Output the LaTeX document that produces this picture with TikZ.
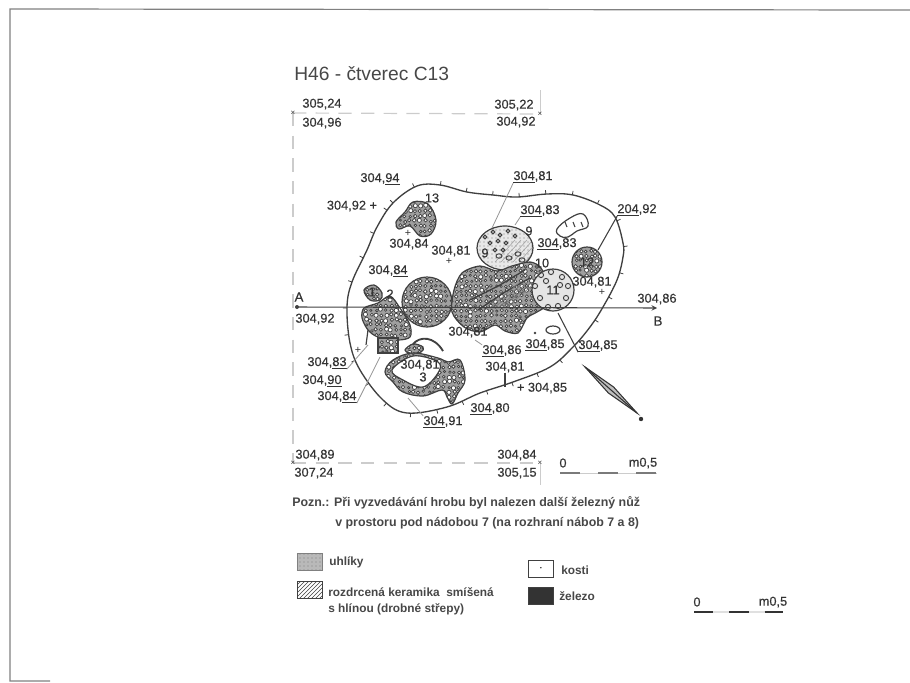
\documentclass[tikz,border=0pt]{standalone}
\usepackage{fontspec}
\setmainfont{Liberation Sans}
\newfontfamily\heavyfont[FakeBold=0.35]{Liberation Sans}
\usetikzlibrary{patterns,decorations.pathreplacing}

\definecolor{ink}{HTML}{333333}
\definecolor{edge}{HTML}{404040}
\definecolor{faint}{HTML}{CCCCCC}

\tikzset{
  lbl/.style={font=\heavyfont\fontsize{9.6}{10}\selectfont, text=ink, inner sep=0pt},
  note/.style={font=\fontsize{9.3}{10}\selectfont\bfseries, text=ink!90, inner sep=0pt, anchor=west},
  keytext/.style={font=\fontsize{8.9}{10}\selectfont\bfseries, text=ink!90, inner sep=0pt, anchor=west},
  leader/.style={edge!55, line width=0.6pt},
  pointer/.style={edge, line width=0.8pt},
  frameline/.style={faint, line width=0.9pt, dash pattern=on 10pt off 7pt},
  pebble/.style={edge, line width=0.55pt, fill=white},
  rim/.style={edge, line width=0.9pt},
  legendbox/.style={draw=edge, line width=0.9pt, minimum width=19pt, minimum height=12.5pt, inner sep=0pt},
  scalebar/.style={ink!65, line width=2pt}
}

% path, left, top, columns, rows
\newcommand{\pebblefill}[5]{
  \begin{scope}
    \clip #1;
    \fill [gray!75] (#2,#3) rectangle ++({5*#4+6},{5*#5+6});
    \foreach \gi in {0,...,#4}
      \foreach \gj in {0,...,#5}
        \draw [pebble] ({#2+5*\gi+2*rnd},{#3+5*\gj+2*rnd}) circle [radius={1.1+1.1*rnd}];
  \end{scope}
  \draw [rim] #1;
}

\begin{document}
\begin{tikzpicture}[x=0.75pt, y=-0.75pt, >=stealth]
\useasboundingbox (0,0) rectangle (910,682);
\pgfmathsetseed{46}

% sheet edge
\draw [gray, line width=0.9pt] (910,10) -- (10,9) -- (10,681) -- (50,681);

% square
\coordinate (corner-nw) at (293,113);
\coordinate (corner-ne) at (540,114);
\coordinate (corner-sw) at (293,463);
\coordinate (corner-se) at (540,463);
\draw [frameline] (corner-nw) -- (corner-ne);
\draw [frameline] (corner-nw) -- (corner-sw);
\draw [frameline] (corner-sw) -- (corner-se);
\draw [faint, line width=0.7pt] (corner-ne) -- ++(0,-24);
\draw [faint, line width=0.7pt] (corner-se) -- ++(0,22);
\foreach \c in {nw,ne,sw,se}
  \node [lbl, font=\fontsize{6}{6}\selectfont] (mark-\c) at (corner-\c) {×};

% pit outline
\draw [rim, line width=1pt, decoration={border, segment length=20pt, amplitude=3pt, angle=90}, postaction={draw, line width=0.6pt, decorate}]
  plot [smooth cycle, tension=0.6] coordinates {(377,227) (393,203) (417,186) (440,185) (467,192) (493,195) (517,197) (547,194) (573,195) (600,205) (615,217) (623,243) (623,257) (617,280) (603,307) (590,327) (573,347) (550,367) (513,382) (480,393) (447,407) (407,413) (383,400) (360,370) (350,343) (347,307) (352,282) (367,250)};

% leaders
\coordinate (end-9) at (492,228);
\coordinate (end-9b) at (515,225);
\coordinate (end-12) at (598,250);
\coordinate (end-11) at (558,313);
\coordinate (end-mass) at (475,340);
\coordinate (end-f) at (368,345);
\coordinate (end-g) at (380,357);
\coordinate (end-3) at (408,398);

% vessels
\pebblefill{plot [smooth cycle, tension=0.6] coordinates {(413,202) (428,204) (436,220) (431,234) (420,236) (410,226) (399,229) (396,222) (405,212)}}{394}{200}{9}{8}

\fill [gray!18] (505,248) ellipse [x radius=28, y radius=22];
\begin{scope}
  \clip (505,248) ellipse [x radius=28, y radius=22];
  \fill [pattern=dots, pattern color=gray] (475,225) rectangle (535,272);
  \foreach \s in {0,6,...,30}
    \draw [edge!50, line width=0.4pt] (495+\s,262) -- (515+\s,240);
  \foreach \gx/\gy in {485/237,493/232,500/235,508/231,515/236,490/243,498/241,506/243,495/250,503/250}
    \draw [edge, line width=0.8pt] (\gx,\gy) circle [radius=1.8];
  \foreach \gx/\gy in {509/258,499/256,518/254,522/260}
    \draw [edge, line width=0.7pt] (\gx,\gy) ellipse [x radius=3, y radius=2.2];
\end{scope}
\draw [rim] (505,248) ellipse [x radius=28, y radius=22];

\pebblefill{(427,302) circle [radius=25]}{400}{275}{11}{11}
\pebblefill{plot [smooth cycle, tension=0.5] coordinates {(454,290) (462,273) (480,266) (497,271) (512,266) (530,262) (541,268) (548,285) (546,305) (537,312) (527,318) (518,333) (505,331) (495,325) (480,332) (464,327) (452,312)}}{450}{260}{20}{15}
\draw [edge, line width=1pt] (470,300) -- (500,285) -- (525,270);
\draw [edge, line width=1pt] (478,310) -- (505,292) -- (530,278);
\foreach \s in {0,4,...,16}
  \draw [edge!70, line width=0.5pt] (490+\s,308) -- (520+\s,282);

\fill [white] (553,290) circle [radius=21];
\begin{scope}
  \clip (553,290) circle [radius=21];
  \fill [gray!20] (530,268) rectangle (576,314);
  \foreach \gx/\gy in {541/275,551/272,562/277,568/286,540/298,566/298,548/307,558/306,535/286,546/281,560/285}
    \draw [edge, line width=0.7pt] (\gx,\gy) circle [radius=2.6];
\end{scope}
\draw [rim] (553,290) circle [radius=21];

\pebblefill{(587,262) circle [radius=15]}{570}{245}{7}{7}
\pebblefill{plot [smooth cycle, tension=0.6] coordinates {(364,290) (374,285) (382,293) (380,300) (370,300)}}{362}{283}{4}{4}
\pebblefill{plot [smooth cycle, tension=0.5] coordinates {(364,308) (378,303) (390,296) (400,308) (410,325) (410,337) (398,340) (378,337) (368,330) (362,318)}}{360}{294}{11}{10}
\draw [rim] (368,330) -- (366,345);
\pebblefill{(378,338) rectangle (398,353)}{376}{336}{5}{4}

% vessel 3
\pebblefill{plot [smooth cycle, tension=0.6] coordinates {(385,372) (393,360) (413,353) (438,358) (448,362) (460,360) (465,380) (458,393) (452,404) (447,397) (442,390) (423,396) (403,392) (393,382)}}{383}{351}{17}{11}
\fill [white] plot [smooth cycle, tension=0.6] coordinates {(392,370) (413,356) (438,362) (438,373) (423,387) (403,380)};
\draw [rim] plot [smooth cycle, tension=0.6] coordinates {(392,370) (413,356) (438,362) (438,373) (423,387) (403,380)};
\draw [edge, line width=1.4pt] (413,344) .. controls (420,336) and (434,336) .. (443,351);
\pebblefill{plot [smooth cycle, tension=0.6] coordinates {(405,350) (413,344) (423,347) (421,352) (410,353)}}{403}{342}{4}{2}

\draw [rim] plot [smooth cycle, tension=0.7] coordinates {(557,229) (570,218) (583,214) (588,226) (577,231) (568,237) (560,236)};
\foreach \s in {0,8,16}
  \draw [edge, line width=0.8pt] (565+\s,222) -- ++(2,5);
\draw [rim] (553,330) ellipse [x radius=7, y radius=4];
\fill [edge] (535,333) circle [radius=1.3];

% section
\coordinate (sec-a) at (297,307);
\coordinate (sec-b) at (657,308);
\fill [edge] (sec-a) circle [radius=2];
\draw [->, edge, line width=0.8pt] (sec-a) -- (sec-b);

% north arrow
\coordinate (north-a) at (585,367);
\coordinate (north-b) at (637,413);
\filldraw [ink, fill=gray!50, line width=0.8pt] (north-a) -- (613.6,387) -- (north-b) -- (608.4,393) -- cycle;
\draw [ink, line width=0.8pt] (north-a) -- (north-b);
\fill [ink] (641,419) circle [radius=2.2];

% heights
\foreach \nm/\px/\py/\t in {
  nw-a/322/104/{305,24}, nw-b/322/123/{304,96}, ne-a/514/105/{305,22}, ne-b/516/122/{304,92},
  top-a/380/179/{304,\underline{94}}, top-b/352/206/{304,92 +}, top-c/533/177/{\underline{304},81},
  top-d/540/211/{\underline{304},83}, top-e/557/244/{\underline{304},83}, top-f/637/210/{\underline{204},92},
  mid-a/409/244/{304,84}, mid-b/451/251/{304,81}, mid-c/388/271/{304,\underline{84}}, mid-d/592/282/{304,81},
  sec-l/315/319/{304,92}, sec-r/657/299/{304,86}, low-a/468/332/{304,81}, low-b/502/351/{\underline{304},86},
  low-c/545/345/{\underline{304},85}, low-d/598/346/{\underline{304},85}, low-e/505/367/{304,81},
  low-f/542/388/{+ 304,85}, low-g/490/409/{\underline{304},80}, low-h/443/422/{\underline{304},91},
  lft-a/327/363/{304,\underline{83}}, lft-b/322/381/{304,\underline{90}}, lft-c/337/397/{304,\underline{84}},
  ves-a/420/365/{304,81}, sw-a/315/455/{304,89}, sw-b/314/473/{307,24}, se-a/517/455/{304,84}, se-b/517/473/{305,15}}
  \node [lbl] (h-\nm) at (\px,\py) {\t};

% numbers
\foreach \nm/\px/\py/\t in {13/432/198/13, 9/529/231/9, 9b/485/253/9, 12/587/262/12, 11/553/290/11, 10/542/263/10, 2/390/294/2, 1/372/292/1, 3/423/377/3}
  \node [lbl] (n-\nm) at (\px,\py) {\t};
\foreach \nm/\px/\py in {a/408/233, b/449/261, c/602/292, d/358/350}
  \node [lbl, font=\fontsize{8}{8}\selectfont] (plus-\nm) at (\px,\py) {+};
\node [lbl, font=\heavyfont\fontsize{10}{10}\selectfont] (name-a) at (299,297) {A};
\node [lbl, font=\heavyfont\fontsize{10}{10}\selectfont] (name-b) at (658,321) {B};

% leader lines
\draw [leader] (h-top-c.south west) -- (end-9);
\draw [leader] (h-top-d.south west) -- (end-9b);
\draw [pointer] (h-top-f.south west) -- (end-12);
\draw [pointer] (h-low-d.south west) -- (end-11);
\draw [leader] (h-low-b.north west) -- (end-mass);
\draw [leader] (h-lft-a.south east) -- (end-f);
\draw [leader] (h-lft-c.south east) -- (end-g);
\draw [leader] (h-low-h.north west) -- (end-3);
\draw [pointer] (h-low-e.south) -- ++(0,14);

% title and note
\node [lbl, font=\fontsize{14.4}{16}\selectfont, text=ink!90, anchor=west] (title) at (294,74) {H46 - čtverec C13};
\node [note] (note-a) at (292,503) {Pozn.: Při vyzvedávání hrobu byl nalezen další železný nůž};
\node [note] (note-b) at (335,523) {v prostoru pod nádobou 7 (na rozhraní nábob 7 a 8)};

% scale one
\node [lbl] (scale-0) at (563,463) {0};
\node [lbl] (scale-m) at (643,463) {m0,5};
\coordinate (bar-a) at (560,473);
\coordinate (bar-b) at (657,473);
\draw [faint, line width=0.7pt] (bar-a) -- (bar-b);
\draw [scalebar, dash pattern=on 15pt off 13.5pt] (bar-a) -- (bar-b);

% scale two
\node [lbl] (second-0) at (697,602) {0};
\node [lbl] (second-m) at (773,602) {m0,5};
\coordinate (barb-a) at (694,612);
\coordinate (barb-b) at (783,612);
\draw [faint!60, line width=1pt] (barb-a) -- (barb-b);
\draw [scalebar, ink, dash pattern=on 14.5pt off 12pt] (barb-a) -- (barb-b);

% legend
\node [legendbox, draw=gray, fill=gray!55] (key-uhliky) at (310,562) {};
\fill [pattern=dots, pattern color=gray] (key-uhliky.south west) rectangle (key-uhliky.north east);
\node [legendbox, pattern=north east lines, pattern color=edge] (key-keramika) at (310,590) {};
\node [legendbox] (key-kosti) at (541,569) {$\cdot$};
\node [legendbox, fill=ink] (key-zelezo) at (541,596) {};
\node [keytext] (text-uhliky) at (329,562) {uhlíky};
\node [keytext] (text-keramika) at (328,592) {rozdrcená keramika\ \ smíšená};
\node [keytext] (text-hlina) at (328,609) {s hlínou (drobné střepy)};
\node [keytext] (text-kosti) at (561,570) {kosti};
\node [keytext] (text-zelezo) at (559,596) {železo};

\end{tikzpicture}
\end{document}
